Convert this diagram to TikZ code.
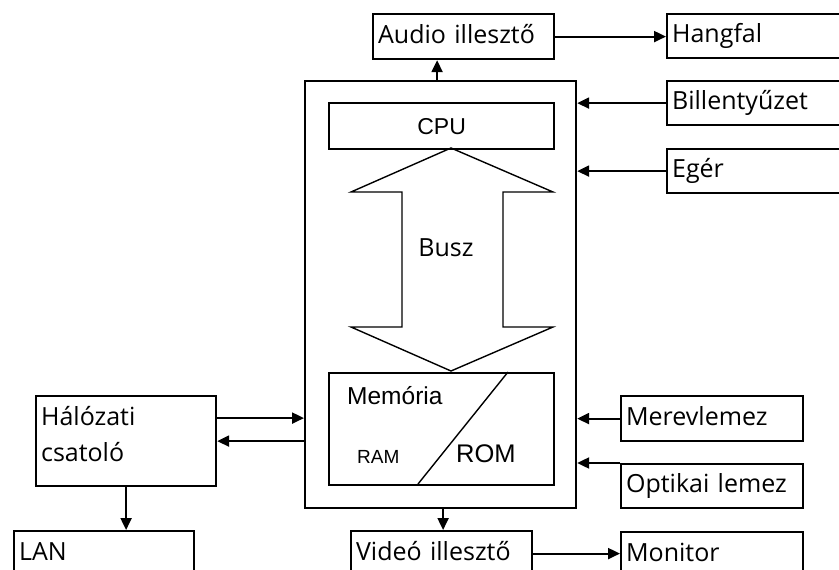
\documentclass[tikz,border=0pt]{standalone}
\usepackage{fontspec}
\setmainfont{Open Sans}
\newfontfamily\arialfont{Liberation Sans}
\usetikzlibrary{arrows.meta}

\tikzset{
  % labelled boxes with left-aligned text
  pbox/.style={draw, line width=2.2pt, anchor=north west, inner xsep=5pt, inner ysep=0pt,
    align=left, font=\fontsize{25}{30}\selectfont, text height=19pt, text depth=6pt},
  % plain boxes (frames, CPU, memory)
  fbox/.style={draw, line width=2.2pt, anchor=north west, inner sep=0pt},
  arr/.style={line width=2.2pt, -{Triangle[length=12pt,width=11pt]}},
  thin/.style={line width=1.4pt},
  afont/.style={font=\arialfont\fontsize{#1}{#1}\selectfont, inner sep=0pt},
}

\begin{document}
\begin{tikzpicture}[x=1pt,y=-1pt]
\useasboundingbox (0,0) rectangle (839,570);
\clip (0,0) rectangle (839,570);

% computer unit
\node[fbox, minimum width=271pt, minimum height=427pt] (main) at (304,80) {};
\node[fbox, minimum width=225pt, minimum height=46pt, afont=23, align=center,
      text height=16.5pt, text depth=0pt] (cpu) at (328,102) {CPU};
\node[fbox, minimum width=225pt, minimum height=112pt] (mem) at (328,372) {};

% bus: double-headed block arrow between CPU and memory
\draw[thin] (451,148) -- (351,192) -- (402,192) -- (402,327) -- (351,327)
  -- (451,371) -- (553,327) -- (503,327) -- (503,192) -- (553,192) -- cycle;
\node[anchor=base, inner sep=0pt, font=\fontsize{25}{30}\selectfont] (busz) at (446,256) {Busz};

% memory split into RAM / ROM
\draw[thin] (508,372) -- (418,484);
\node[afont=24.5, anchor=base west] (memlbl) at (347,404) {Memória};
\node[afont=19, anchor=base west] (ram) at (357,463) {RAM};
\node[afont=25.5, anchor=base west] (rom) at (456,462) {ROM};

% peripherals
\node[pbox, minimum width=181pt, minimum height=45pt, text width=171pt] (audio) at (372,13) {Audio illesztő};
\node[pbox, minimum width=194pt, minimum height=44pt, text width=184pt] (hangfal) at (666,13) {Hangfal};
\node[pbox, minimum width=194pt, minimum height=44pt, text width=184pt] (bill) at (666,80) {Billentyűzet};
\node[pbox, minimum width=194pt, minimum height=44pt, text width=184pt] (eger) at (666,148) {Egér};
\node[pbox, minimum width=182pt, minimum height=45pt, text width=172pt] (merev) at (620,395) {Merevlemez};
\node[pbox, minimum width=182pt, minimum height=44pt, text width=172pt] (opt) at (620,463) {Optikai lemez};
\node[pbox, minimum width=180pt, minimum height=90pt, text width=170pt,
      font=\fontsize{25}{36}\selectfont, text depth=51pt] (hal) at (35,395) {Hálózati\\csatoló};
\node[pbox, minimum width=180pt, minimum height=45pt, text width=170pt] (lan) at (13,530) {LAN};
\node[pbox, minimum width=181pt, minimum height=45pt, text width=171pt] (video) at (350,530) {Videó illesztő};
\node[pbox, minimum width=182pt, minimum height=45pt, text width=172pt] (monitor) at (620,531) {Monitor};

% connections
\draw[arr] ([xshift=-3.5pt]main.north) -- ([xshift=-3.5pt]main.north |- audio.south);
\draw[arr] (audio.east) -- (audio.east -| hangfal.west);
\draw[arr] (bill.west) -- (bill.west -| main.east);
\draw[arr] (eger.west) -- (eger.west -| main.east);
\draw[arr] (merev.west) -- (merev.west -| main.east);
\draw[arr] (opt.north west) -- (opt.north west -| main.east);
\draw[arr] ([yshift=23pt]hal.east) -- ([yshift=23pt]hal.east -| main.west);
\draw[arr] (hal.east -| main.west) -- (hal.east);
\draw[arr] (hal.south) -- (hal.south |- lan.north);
\draw[arr] ([xshift=2.5pt]main.south) -- ([xshift=2.5pt]main.south |- video.north);
\draw[arr] (video.east) -- (video.east -| monitor.west);
\end{tikzpicture}
\end{document}
